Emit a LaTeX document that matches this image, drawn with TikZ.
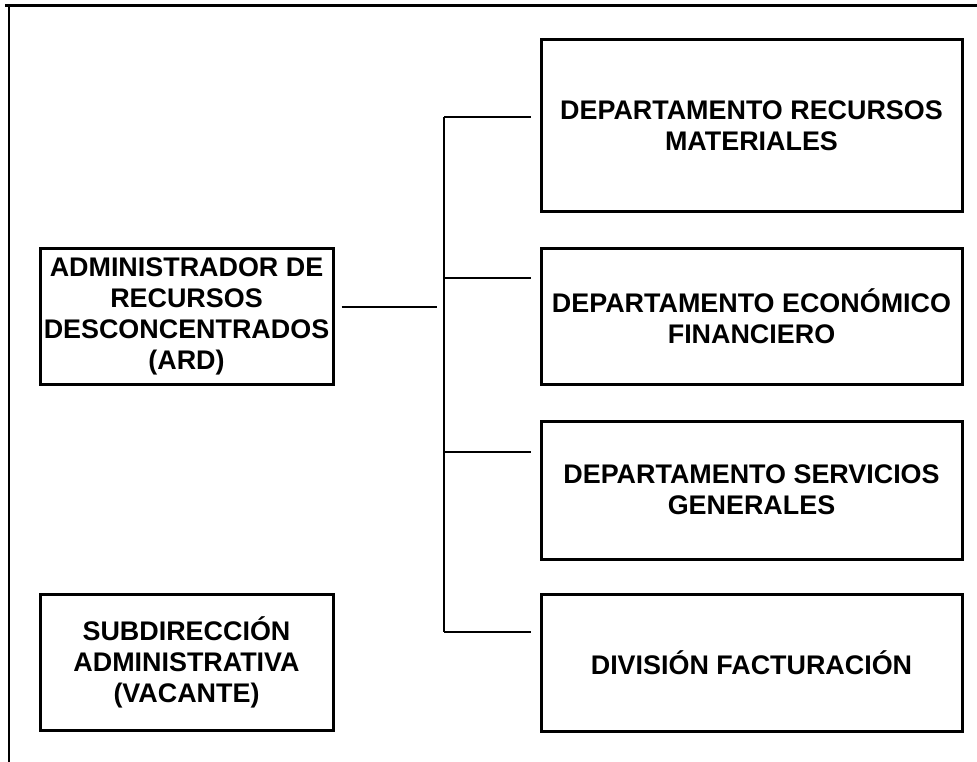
\documentclass[tikz,border=0pt]{standalone}
\usepackage{fontspec}
\setmainfont{Liberation Sans}
\usepackage{tikz}
\tikzset{
    unit/.style={draw, line width=3pt, inner sep=0pt, align=center,
        font=\fontsize{26.9}{31}\selectfont\bfseries},
    link/.style={line width=2pt}
}

\begin{document}
\begin{tikzpicture}[x=1pt, y=-1pt]
        \useasboundingbox (0,0) rectangle (977,762);
        \draw [line width=3pt] (5,6) -- (977,6);
        \draw [line width=2.4pt] (9,6) -- (9,762);
        \node [unit, minimum width=293, minimum height=136] (ard) at (186.5,316) {ADMINISTRADOR DE\\RECURSOS\\DESCONCENTRADOS\\(ARD)};
        \node [unit, minimum width=293, minimum height=136] (sub) at (186.5,662.5) {SUBDIRECCIÓN\\ADMINISTRATIVA\\(VACANTE)};
        \node [unit, minimum width=421, minimum height=172] (dep1) at (751.5,126) {DEPARTAMENTO RECURSOS\\MATERIALES};
        \node [unit, minimum width=421, minimum height=136] (dep2) at (751.5,316) {DEPARTAMENTO ECONÓMICO\\FINANCIERO};
        \node [unit, minimum width=421, minimum height=138] (dep3) at (751.5,490) {DEPARTAMENTO SERVICIOS\\GENERALES};
        \node [unit, minimum width=421, minimum height=137] (div) at (751.5,662.5) {DIVISIÓN FACTURACIÓN};
        \coordinate (b1) at (444,117);
        \coordinate (b2) at (444,278);
        \coordinate (b3) at (444,452);
        \coordinate (b4) at (444,632);
        \coordinate (join) at (444,307);
        \draw [link] (b1) -- (b4);
        \draw [link, shorten >=9pt] (b1) -- (b1 -| dep1.west);
        \draw [link, shorten >=9pt] (b2) -- (b2 -| dep2.west);
        \draw [link, shorten >=9pt] (b3) -- (b3 -| dep3.west);
        \draw [link, shorten >=9pt] (b4) -- (b4 -| div.west);
        \draw [link, shorten <=7pt, shorten >=7pt] (join -| ard.east) -- (join);
    \end{tikzpicture}
\end{document}
